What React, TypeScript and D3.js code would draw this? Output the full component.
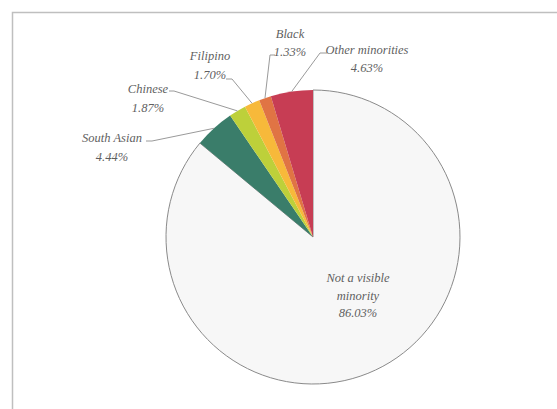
import React from "react";
import * as d3 from "d3";

const categories = ["Not a visible minority", "South Asian", "Chinese", "Filipino", "Black", "Other minorities"];
const values = [86.03, 4.44, 1.87, 1.7, 1.33, 4.63];
const labelLines = [["Not a visible", "minority"], ["South Asian"], ["Chinese"], ["Filipino"], ["Black"], ["Other minorities"]];
const colors = ["#f7f7f7", "#3a7d6a", "#bdd03a", "#f7b93a", "#e07444", "#c73d54"];

// label layout: text center x, first baseline y, connector start (x,y) and elbow x
const layout = [
  { tx: 358, ty: 282, lh: 17.5, inside: true },
  { tx: 112, ty: 142, lh: 19, sx: 146, sy: 141, ex: 152 },
  { tx: 148, ty: 93, lh: 18.5, sx: 169, sy: 91, ex: 174 },
  { tx: 210, ty: 60, lh: 19, sx: 226, sy: 79, ex: 232 },
  { tx: 290, ty: 38, lh: 18, sx: 275, sy: 55, ex: 270 },
  { tx: 367, ty: 54, lh: 18, sx: 327, sy: 53, ex: 320 },
];

const W = 557, H = 409;
const cx = 313, cy = 237, R = 147;

export default function App() {
  const pie = d3.pie<number>().sort(null).value((d) => d)(values);
  const arc = d3.arc<d3.PieArcDatum<number>>().innerRadius(0).outerRadius(R);
  return (
    <svg width={W} height={H} style={{ position: "absolute", left: 0, top: 0, background: "#fff" }}>
      <rect x={12.5} y={12.5} width={W + 20} height={H + 20} fill="#fff" stroke="#bfbfbf" strokeWidth={1.5} />
      <g transform={`translate(${cx},${cy})`}>
        {pie.map((p, i) => (
          <path key={i} d={arc(p) || ""} fill={colors[i]} stroke={i === 0 ? "#8a8a8a" : "none"} strokeWidth={i === 0 ? 1 : 0} />
        ))}
      </g>
      {pie.map((p, i) => {
        const L = layout[i];
        const mid = (p.startAngle + p.endAngle) / 2;
        const ax = cx + R * Math.sin(mid);
        const ay = cy - R * Math.cos(mid);
        const lines = [...labelLines[i], values[i].toFixed(2) + "%"];
        return (
          <g key={i}>
            {!L.inside && (
              <polyline
                points={`${L.sx},${L.sy} ${L.ex},${L.sy} ${ax},${ay}`}
                fill="none"
                stroke="#9a9a9a"
                strokeWidth={1}
              />
            )}
            <text
              x={L.tx}
              y={L.ty}
              textAnchor="middle"
              style={{ fontFamily: '"Liberation Serif", serif', fontStyle: "italic", fontSize: "12.5px" }}
              fill="#5f5f5f"
            >
              {lines.map((t, j) => (
                <tspan key={j} x={L.tx} y={L.ty + j * L.lh}>
                  {t}
                </tspan>
              ))}
            </text>
          </g>
        );
      })}
    </svg>
  );
}
